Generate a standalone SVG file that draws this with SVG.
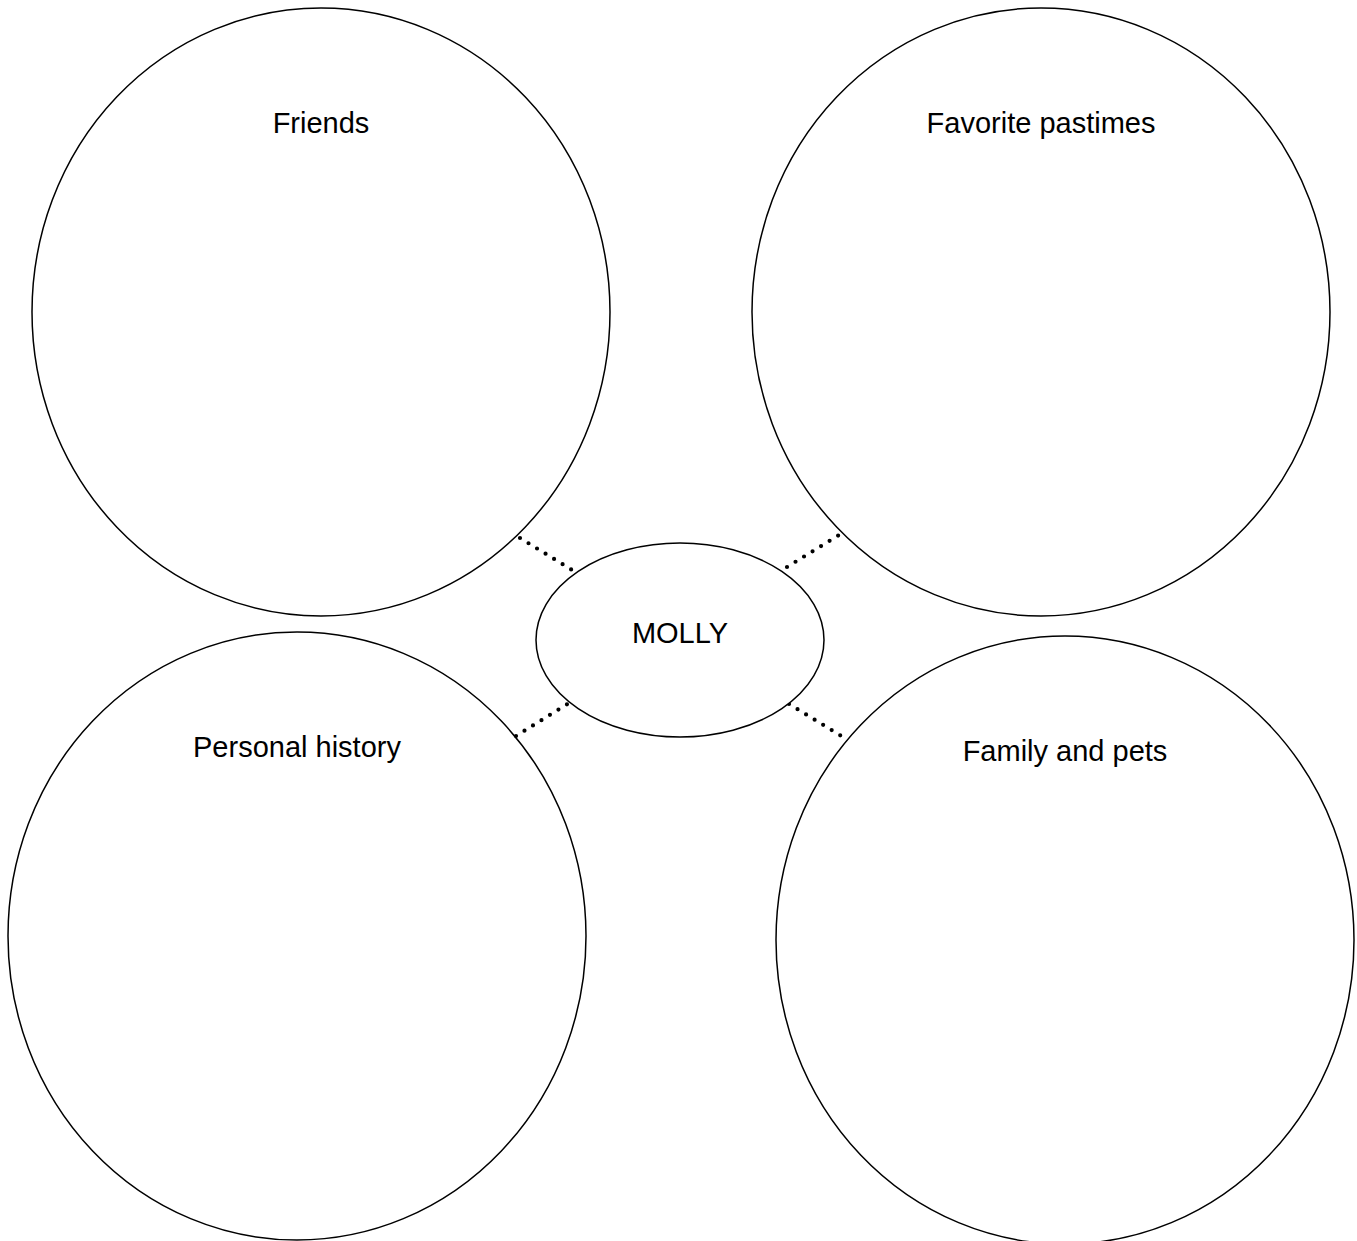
<svg xmlns="http://www.w3.org/2000/svg" width="1357" height="1241" viewBox="0 0 1357 1241">
<style>
.node{fill:none;stroke:#000;stroke-width:1.5}
.lbl{font-family:"Liberation Sans",Arial,sans-serif;font-size:29px;fill:#000;text-anchor:middle}
.dot{stroke:#000;stroke-width:4.2;stroke-linecap:round;stroke-dasharray:0 10;fill:none}
</style>
<rect width="1357" height="1241" fill="#fff"/>
<g id="connectors">
<line class="dot" x1="520" y1="538" x2="572" y2="570"/>
<line class="dot" x1="787" y1="567" x2="839" y2="535"/>
<line class="dot" x1="516" y1="736" x2="569" y2="703"/>
<line class="dot" x1="789" y1="704" x2="843" y2="737"/>
</g>
<g id="friends">
<ellipse class="node" cx="321" cy="312" rx="289" ry="304"/>
<text class="lbl" x="321" y="133">Friends</text>
</g>
<g id="pastimes">
<ellipse class="node" cx="1041" cy="312" rx="289" ry="304"/>
<text class="lbl" x="1041" y="133">Favorite pastimes</text>
</g>
<g id="history">
<ellipse class="node" cx="297" cy="936" rx="289" ry="304"/>
<text class="lbl" x="297" y="757">Personal history</text>
</g>
<g id="family">
<ellipse class="node" cx="1065" cy="940" rx="289" ry="304"/>
<text class="lbl" x="1065" y="761">Family and pets</text>
</g>
<g id="molly">
<ellipse class="node" cx="680" cy="640" rx="144" ry="97" style="fill:#fff"/>
<text class="lbl" x="680" y="643">MOLLY</text>
</g>
</svg>
